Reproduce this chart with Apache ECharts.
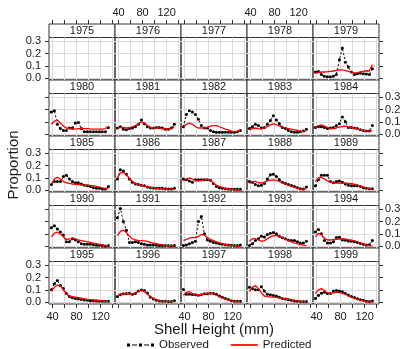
<!DOCTYPE html>
<html>
<head>
<meta charset="utf-8">
<script src="https://cdn.jsdelivr.net/npm/echarts@6/dist/echarts.min.js"></script>
<style>
  html, body { margin: 0; padding: 0; background: #fff; }
  #chart { width: 404px; height: 349px; }
</style>
</head>
<body>
<div id="chart"></div>
<script>
// Panel years (5 x 5 lattice, read left to right, top to bottom)
const years = [1975, 1976, 1977, 1978, 1979,
               1980, 1981, 1982, 1983, 1984,
               1985, 1986, 1987, 1988, 1989,
               1990, 1991, 1992, 1993, 1994,
               1995, 1996, 1997, 1998, 1999];

// Shell height bins (mm)
const shellHeights = [38, 43, 48, 53, 58, 63, 68, 73, 78, 83, 88, 93, 98, 103, 108, 113, 118, 123, 128, 133];

// Tick positions and labels
const xTicks = [40, 60, 80, 100, 120, 140];
const xTickLabels = [40, 80, 120];
const yTicks = [0, 0.1, 0.2, 0.3];
const yTickLabels = [0, 0.1, 0.2, 0.3];

// Observed / predicted proportions by year (1975-1978 have no samples)
const obs1979 = [0.05, 0.055, 0.03, 0.015, 0.012, 0.012, 0.015, 0.03, 0.15, 0.245, 0.13, 0.09, 0.05, 0.03, 0.035, 0.04, 0.035, 0.033, 0.03, 0.076];
const pred1979 = [0.04, 0.045, 0.05, 0.05, 0.052, 0.055, 0.058, 0.063, 0.067, 0.068, 0.062, 0.055, 0.048, 0.042, 0.045, 0.05, 0.055, 0.06, 0.058, 0.11];
const obs1980 = [0.18, 0.19, 0.08, 0.045, 0.03, 0.03, 0.05, 0.05, 0.09, 0.095, 0.045, 0.02, 0.02, 0.02, 0.02, 0.02, 0.02, 0.02, 0.02, 0.055];
const pred1980 = [0.08, 0.105, 0.115, 0.09, 0.065, 0.05, 0.045, 0.04, 0.04, 0.045, 0.045, 0.045, 0.045, 0.042, 0.04, 0.04, 0.04, 0.04, 0.045, 0.065];
const obs1981 = [0.05, 0.06, 0.04, 0.035, 0.045, 0.05, 0.06, 0.08, 0.115, 0.085, 0.06, 0.05, 0.05, 0.055, 0.055, 0.05, 0.04, 0.04, 0.05, 0.08];
const pred1981 = [0.045, 0.055, 0.055, 0.05, 0.05, 0.06, 0.07, 0.085, 0.1, 0.09, 0.07, 0.055, 0.05, 0.05, 0.05, 0.045, 0.04, 0.04, 0.045, 0.06];
const obs1982 = [0.06, 0.16, 0.19, 0.18, 0.16, 0.12, 0.07, 0.05, 0.05, 0.03, 0.02, 0.015, 0.015, 0.015, 0.015, 0.015, 0.015, 0.015, 0.02, 0.03];
const pred1982 = [0.06, 0.08, 0.09, 0.08, 0.06, 0.05, 0.05, 0.05, 0.055, 0.065, 0.07, 0.07, 0.06, 0.05, 0.04, 0.035, 0.025, 0.02, 0.022, 0.035];
const obs1983 = [0.045, 0.06, 0.08, 0.07, 0.05, 0.055, 0.08, 0.11, 0.15, 0.115, 0.085, 0.055, 0.045, 0.03, 0.02, 0.015, 0.015, 0.02, 0.025, 0.04];
const pred1983 = [0.035, 0.045, 0.05, 0.045, 0.043, 0.05, 0.062, 0.075, 0.084, 0.078, 0.065, 0.058, 0.05, 0.045, 0.04, 0.035, 0.03, 0.025, 0.022, 0.024];
const obs1984 = [0.055, 0.06, 0.06, 0.055, 0.045, 0.05, 0.055, 0.07, 0.085, 0.14, 0.1, 0.055, 0.055, 0.05, 0.045, 0.035, 0.03, 0.025, 0.025, 0.07];
const pred1984 = [0.05, 0.07, 0.075, 0.065, 0.055, 0.045, 0.045, 0.05, 0.057, 0.062, 0.065, 0.06, 0.055, 0.048, 0.04, 0.035, 0.03, 0.025, 0.024, 0.03];
const obs1985 = [0.045, 0.07, 0.07, 0.07, 0.11, 0.12, 0.09, 0.07, 0.06, 0.06, 0.05, 0.04, 0.035, 0.03, 0.02, 0.015, 0.015, 0.01, 0.01, 0.03];
const pred1985 = [0.05, 0.09, 0.105, 0.09, 0.07, 0.06, 0.055, 0.05, 0.048, 0.045, 0.042, 0.04, 0.04, 0.038, 0.035, 0.03, 0.025, 0.018, 0.012, 0.01];
const obs1986 = [0.09, 0.165, 0.155, 0.13, 0.09, 0.065, 0.05, 0.045, 0.04, 0.035, 0.025, 0.02, 0.018, 0.015, 0.015, 0.015, 0.012, 0.01, 0.01, 0.015];
const pred1986 = [0.1, 0.14, 0.145, 0.125, 0.095, 0.07, 0.055, 0.045, 0.038, 0.032, 0.027, 0.022, 0.018, 0.015, 0.013, 0.011, 0.01, 0.009, 0.008, 0.008];
const obs1987 = [0.09, 0.085, 0.075, 0.065, 0.085, 0.085, 0.085, 0.085, 0.085, 0.08, 0.055, 0.03, 0.02, 0.015, 0.012, 0.01, 0.008, 0.008, 0.008, 0.008];
const pred1987 = [0.075, 0.09, 0.1, 0.09, 0.075, 0.075, 0.08, 0.085, 0.087, 0.08, 0.06, 0.04, 0.03, 0.02, 0.015, 0.01, 0.006, 0.004, 0.003, 0.003];
const obs1988 = [0.07, 0.065, 0.045, 0.035, 0.04, 0.055, 0.09, 0.125, 0.13, 0.11, 0.085, 0.065, 0.055, 0.045, 0.038, 0.03, 0.02, 0.012, 0.01, 0.025];
const pred1988 = [0.055, 0.07, 0.072, 0.06, 0.058, 0.065, 0.075, 0.082, 0.084, 0.08, 0.072, 0.06, 0.05, 0.04, 0.03, 0.022, 0.014, 0.009, 0.008, 0.011];
const obs1989 = [0.035, 0.085, 0.12, 0.12, 0.12, 0.07, 0.06, 0.07, 0.075, 0.065, 0.05, 0.04, 0.035, 0.035, 0.035, 0.03, 0.02, 0.015, 0.012, 0.012];
const pred1989 = [0.07, 0.1, 0.105, 0.09, 0.075, 0.065, 0.06, 0.058, 0.058, 0.058, 0.057, 0.055, 0.052, 0.048, 0.04, 0.032, 0.025, 0.018, 0.012, 0.01];
const obs1990 = [0.15, 0.165, 0.14, 0.115, 0.09, 0.035, 0.035, 0.06, 0.05, 0.035, 0.02, 0.015, 0.015, 0.015, 0.012, 0.008, 0.008, 0.005, 0.002, 0.005];
const pred1990 = [0.075, 0.105, 0.115, 0.1, 0.075, 0.055, 0.058, 0.065, 0.06, 0.05, 0.045, 0.04, 0.035, 0.03, 0.025, 0.02, 0.015, 0.01, 0.005, 0.003];
const obs1991 = [0.23, 0.305, 0.2, 0.13, 0.03, 0.03, 0.035, 0.03, 0.02, 0.015, 0.01, 0.01, 0.01, 0.008, 0.005, 0.005, 0.005, 0.005, 0.003, 0.005];
const pred1991 = [0.085, 0.12, 0.13, 0.11, 0.08, 0.06, 0.05, 0.047, 0.045, 0.043, 0.038, 0.03, 0.025, 0.02, 0.015, 0.01, 0.007, 0.005, 0.003, 0.002];
const obs1992 = [0.005, 0.01, 0.02, 0.03, 0.04, 0.2, 0.24, 0.1, 0.05, 0.04, 0.03, 0.025, 0.02, 0.015, 0.012, 0.01, 0.008, 0.005, 0.005, 0.01];
const pred1992 = [0.045, 0.055, 0.065, 0.07, 0.07, 0.08, 0.095, 0.09, 0.07, 0.055, 0.045, 0.035, 0.027, 0.02, 0.014, 0.01, 0.006, 0.004, 0.002, 0.001];
const obs1993 = [0.005, 0.02, 0.045, 0.06, 0.08, 0.075, 0.095, 0.105, 0.11, 0.1, 0.08, 0.068, 0.06, 0.05, 0.045, 0.045, 0.035, 0.025, 0.025, 0.04];
const pred1993 = [0.04, 0.06, 0.06, 0.05, 0.04, 0.045, 0.06, 0.075, 0.085, 0.087, 0.08, 0.07, 0.055, 0.045, 0.035, 0.025, 0.018, 0.012, 0.008, 0.005];
const obs1994 = [0.115, 0.135, 0.1, 0.045, 0.025, 0.025, 0.035, 0.07, 0.072, 0.05, 0.048, 0.042, 0.04, 0.035, 0.03, 0.022, 0.015, 0.01, 0.012, 0.045];
const pred1994 = [0.075, 0.105, 0.09, 0.065, 0.05, 0.05, 0.053, 0.056, 0.058, 0.06, 0.057, 0.052, 0.048, 0.042, 0.035, 0.027, 0.018, 0.01, 0.005, 0.003];
const obs1995 = [0.1, 0.15, 0.175, 0.135, 0.11, 0.07, 0.045, 0.035, 0.03, 0.025, 0.022, 0.018, 0.015, 0.012, 0.012, 0.01, 0.008, 0.008, 0.008, 0.008];
const pred1995 = [0.09, 0.12, 0.14, 0.13, 0.1, 0.065, 0.05, 0.045, 0.04, 0.036, 0.032, 0.027, 0.022, 0.02, 0.018, 0.016, 0.014, 0.01, 0.006, 0.004];
const obs1996 = [0.045, 0.06, 0.068, 0.07, 0.072, 0.065, 0.07, 0.09, 0.098, 0.095, 0.075, 0.04, 0.025, 0.015, 0.01, 0.008, 0.008, 0.005, 0.005, 0.012];
const pred1996 = [0.05, 0.065, 0.07, 0.07, 0.067, 0.065, 0.075, 0.09, 0.097, 0.085, 0.065, 0.045, 0.03, 0.02, 0.013, 0.008, 0.006, 0.005, 0.004, 0.004];
const obs1997 = [0.103, 0.065, 0.065, 0.062, 0.06, 0.057, 0.06, 0.068, 0.068, 0.073, 0.07, 0.065, 0.05, 0.04, 0.03, 0.022, 0.012, 0.008, 0.008, 0.008];
const pred1997 = [0.055, 0.08, 0.085, 0.07, 0.06, 0.058, 0.062, 0.068, 0.072, 0.073, 0.068, 0.058, 0.045, 0.035, 0.025, 0.018, 0.01, 0.006, 0.005, 0.005];
const obs1998 = [0.12, 0.11, 0.1, 0.1, 0.125, 0.09, 0.065, 0.06, 0.055, 0.05, 0.04, 0.03, 0.025, 0.02, 0.015, 0.01, 0.008, 0.005, 0.005, 0.005];
const pred1998 = [0.085, 0.12, 0.135, 0.11, 0.075, 0.05, 0.045, 0.042, 0.04, 0.038, 0.035, 0.03, 0.027, 0.024, 0.02, 0.015, 0.01, 0.006, 0.004, 0.003];
const obs1999 = [0.03, 0.055, 0.072, 0.08, 0.07, 0.07, 0.09, 0.095, 0.09, 0.085, 0.07, 0.058, 0.045, 0.037, 0.028, 0.02, 0.015, 0.008, 0.005, 0.01];
const pred1999 = [0.07, 0.1, 0.11, 0.095, 0.075, 0.07, 0.075, 0.08, 0.08, 0.072, 0.062, 0.05, 0.04, 0.03, 0.022, 0.015, 0.01, 0.005, 0.003, 0.003];

const observedByYear = {
  1979: obs1979, 1980: obs1980, 1981: obs1981, 1982: obs1982, 1983: obs1983, 1984: obs1984,
  1985: obs1985, 1986: obs1986, 1987: obs1987, 1988: obs1988, 1989: obs1989,
  1990: obs1990, 1991: obs1991, 1992: obs1992, 1993: obs1993, 1994: obs1994,
  1995: obs1995, 1996: obs1996, 1997: obs1997, 1998: obs1998, 1999: obs1999
};
const predictedByYear = {
  1979: pred1979, 1980: pred1980, 1981: pred1981, 1982: pred1982, 1983: pred1983, 1984: pred1984,
  1985: pred1985, 1986: pred1986, 1987: pred1987, 1988: pred1988, 1989: pred1989,
  1990: pred1990, 1991: pred1991, 1992: pred1992, 1993: pred1993, 1994: pred1994,
  1995: pred1995, 1996: pred1996, 1997: pred1997, 1998: pred1998, 1999: pred1999
};

// Layout of the lattice
const FONT = '"Liberation Sans", Arial, Helvetica, sans-serif';
const TEXT = '#1a1a1a';
const BORDER = '#333';
const NCOL = 5;
const LEFT = 49, TOP = 24, COL_W = 66, ROW_H = 56, STRIP_H = 13.5, PLOT_H = 42.5;
const X_MIN = 34, X_MAX = 144, Y_MIN = -0.015, Y_MAX = 0.33;

// Legend keys: dotted line with points, and a plain red line
const OBSERVED_KEY = 'path://M0,0h3v3h-3zM5,1h5v1h-5zM12,0h3v3h-3zM17,1h5v1h-5zM24,0h3v3h-3z';
const PREDICTED_KEY = 'path://M0,0h22v1.4h-22z';

const grids = [], xAxes = [], yAxes = [], series = [], graphics = [];

function pairs(ys) {
  return shellHeights.map((x, k) => [x, ys[k]]);
}

years.forEach((year, i) => {
  const r = Math.floor(i / NCOL), c = i % NCOL;
  const left = LEFT + c * COL_W;
  const stripTop = TOP + r * ROW_H;
  const plotTop = stripTop + STRIP_H;

  grids.push({
    left: left, top: plotTop, width: COL_W, height: PLOT_H,
    containLabel: false, outerBoundsMode: 'none',
    show: true, borderColor: BORDER, borderWidth: 1, backgroundColor: 'transparent'
  });

  const tickStyle = { color: BORDER, width: 1 };
  const labelBase = { fontSize: 11, color: TEXT, fontFamily: FONT };

  // bottom x axis (carries the grid lines)
  xAxes.push({
    type: 'value', gridIndex: i, position: 'bottom', min: X_MIN, max: X_MAX,
    axisLine: { show: false, onZero: false },
    axisTick: { show: r === 4, customValues: xTicks, length: 4, lineStyle: tickStyle },
    axisLabel: Object.assign({ show: r === 4 && c % 2 === 0, customValues: xTickLabels, margin: 7 }, labelBase),
    splitLine: { show: true, lineStyle: { color: '#dadada', width: 1 } }
  });
  // top x axis, placed above the year strip
  xAxes.push({
    type: 'value', gridIndex: i, position: 'top', offset: STRIP_H, min: X_MIN, max: X_MAX,
    axisLine: { show: false, onZero: false },
    axisTick: { show: r === 0, customValues: xTicks, length: 4, lineStyle: tickStyle },
    axisLabel: Object.assign({ show: r === 0 && c % 2 === 1, customValues: xTickLabels, margin: 6 }, labelBase),
    splitLine: { show: false }
  });
  // left y axis (carries the grid lines)
  yAxes.push({
    type: 'value', gridIndex: i, position: 'left', min: Y_MIN, max: Y_MAX,
    axisLine: { show: false, onZero: false },
    axisTick: { show: c === 0, customValues: yTicks, length: 4, lineStyle: tickStyle },
    axisLabel: Object.assign({ show: c === 0 && r % 2 === 0, customValues: yTickLabels, margin: 8,
      formatter: v => v.toFixed(1) }, labelBase),
    splitLine: { show: true, lineStyle: { color: '#dadada', width: 1 } }
  });
  // right y axis
  yAxes.push({
    type: 'value', gridIndex: i, position: 'right', min: Y_MIN, max: Y_MAX,
    axisLine: { show: false, onZero: false },
    axisTick: { show: c === NCOL - 1, customValues: yTicks, length: 4, lineStyle: tickStyle },
    axisLabel: Object.assign({ show: c === NCOL - 1 && r % 2 === 1, customValues: yTickLabels, margin: 6,
      formatter: v => v.toFixed(1) }, labelBase),
    splitLine: { show: false }
  });

  // strip with the year
  graphics.push({
    type: 'rect', silent: true,
    shape: { x: left, y: stripTop, width: COL_W, height: STRIP_H },
    style: { fill: '#fff', stroke: BORDER, lineWidth: 1 }
  });
  graphics.push({
    type: 'text', silent: true,
    x: left + COL_W / 2, y: stripTop + STRIP_H / 2 + 0.5,
    style: { text: String(year), fill: TEXT, font: '11px ' + FONT, align: 'center', verticalAlign: 'middle' }
  });

  const obs = observedByYear[year];
  const pred = predictedByYear[year];
  if (obs) {
    series.push({
      name: 'Observed', type: 'line', xAxisIndex: 2 * i, yAxisIndex: 2 * i,
      data: pairs(obs), symbol: 'circle', symbolSize: 3, showSymbol: true,
      itemStyle: { color: '#000' },
      lineStyle: { color: '#000', width: 1, type: [2, 2] },
      z: 3, animation: false, silent: true
    });
  }
  if (pred) {
    series.push({
      name: 'Predicted', type: 'line', xAxisIndex: 2 * i, yAxisIndex: 2 * i,
      data: pairs(pred), symbol: 'none', showSymbol: false,
      itemStyle: { color: '#ff0000' },
      lineStyle: { color: '#ff0000', width: 1.3 },
      z: 4, animation: false, silent: true
    });
  }
});

// shared axis titles
graphics.push({
  type: 'text', silent: true, x: LEFT + NCOL * COL_W / 2, y: 330,
  style: { text: 'Shell Height (mm)', fill: TEXT, font: '15px ' + FONT, align: 'center', verticalAlign: 'middle' }
});
graphics.push({
  type: 'text', silent: true, x: 14, y: 165, rotation: Math.PI / 2,
  style: { text: 'Proportion', fill: TEXT, font: '15px ' + FONT, align: 'center', verticalAlign: 'middle' }
});

const chart = echarts.init(document.getElementById('chart'), null, { renderer: 'canvas' });
chart.setOption({
  animation: false,
  backgroundColor: '#fff',
  grid: grids,
  xAxis: xAxes,
  yAxis: yAxes,
  series: series,
  graphic: graphics,
  legend: {
    data: [{ name: 'Observed', icon: OBSERVED_KEY }, { name: 'Predicted', icon: PREDICTED_KEY }],
    left: 122, top: 334,
    itemWidth: 27, itemHeight: 8, itemGap: 22,
    symbolKeepAspect: true,
    textStyle: { fontSize: 11.5, color: TEXT, fontFamily: FONT },
    selectedMode: false
  }
});
</script>
</body>
</html>
